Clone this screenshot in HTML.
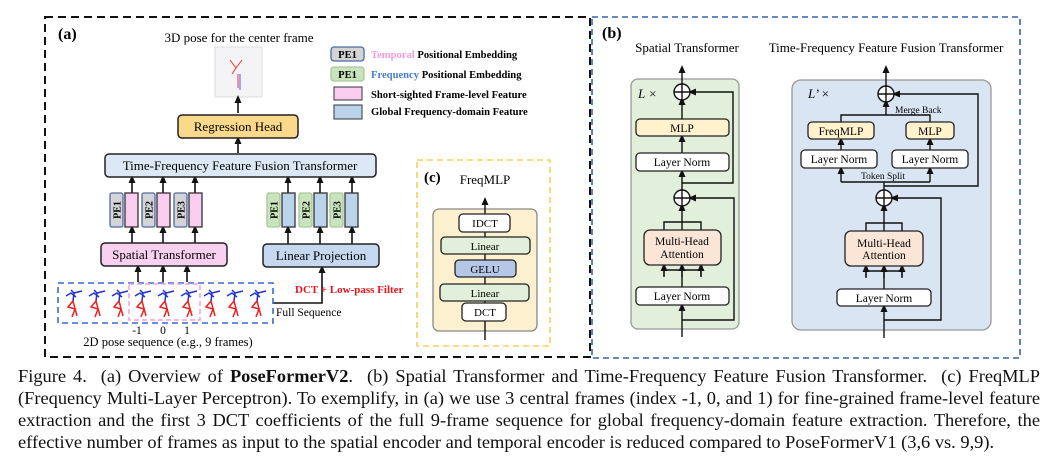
<!DOCTYPE html>
<html><head><meta charset="utf-8"><style>
body{margin:0;background:#fff;width:1060px;height:460px;overflow:hidden;position:relative;font-family:"Liberation Serif",serif}
svg{position:absolute;left:0;top:0}
.cap{position:absolute;left:18px;width:1022px;font-size:18.4px;line-height:22px;color:#111;white-space:nowrap}
.j{text-align:justify;text-align-last:justify}
</style></head><body>
<svg width="1060" height="360" viewBox="0 0 1060 360" font-family="Liberation Serif, serif">
<defs><marker id="a" markerWidth="8" markerHeight="8" refX="4" refY="4" orient="auto" markerUnits="userSpaceOnUse"><path d="M0,0.5 L8,4 L0,7.5 Z" fill="#111"/></marker></defs>
<rect x="45" y="17" width="545" height="340" fill="none" stroke="#111" stroke-width="2" stroke-dasharray="8,5"/>
<text x="58" y="39" font-size="16" font-weight="bold">(a)</text>
<text x="239" y="42" font-size="13" text-anchor="middle">3D pose for the center frame</text>
<rect x="215" y="47" width="47" height="50" fill="#f4f4f6" stroke="#ddd"/>
<path d="M230 60 l6 8 l-4 6 M236 68 l6 -8 M238 74 l0 14" stroke="#e33" fill="none"/><path d="M240 74 l0 16" stroke="#55e"/>
<g stroke="#111" stroke-width="1.6" fill="none" marker-end="url(#a)">
<line x1="238" y1="113" x2="238" y2="99"/>
<line x1="238" y1="153" x2="238" y2="140"/>
<line x1="132" y1="193" x2="132" y2="179"/><line x1="163" y1="193" x2="163" y2="179"/><line x1="195" y1="193" x2="195" y2="179"/>
<line x1="288" y1="193" x2="288" y2="179"/><line x1="320" y1="193" x2="320" y2="179"/><line x1="352" y1="193" x2="352" y2="179"/>
<line x1="132" y1="243" x2="132" y2="229"/><line x1="163" y1="243" x2="163" y2="229"/><line x1="195" y1="243" x2="195" y2="229"/>
<line x1="288" y1="244" x2="288" y2="229"/><line x1="320" y1="244" x2="320" y2="229"/><line x1="352" y1="244" x2="352" y2="229"/>
<line x1="138" y1="282" x2="138" y2="268"/><line x1="163" y1="282" x2="163" y2="268"/><line x1="187" y1="282" x2="187" y2="268"/>
<polyline points="273,303 322,303 322,269"/>
</g>
<rect x="178" y="115" width="120" height="23" rx="4" fill="#fbd98a" stroke="#222" stroke-width="1.5"/>
<text x="238" y="131" font-size="13" text-anchor="middle">Regression Head</text>
<rect x="105" y="154" width="271" height="23" rx="4" fill="#dce8f5" stroke="#222" stroke-width="1.5"/>
<text x="240" y="170" font-size="13" text-anchor="middle">Time-Frequency Feature Fusion Transformer</text>
<g stroke="#4a6aa8" stroke-width="1.3">
<rect x="110" y="193" width="13" height="34" rx="2" fill="#d4d4d4"/><rect x="142" y="193" width="13" height="34" rx="2" fill="#d4d4d4"/><rect x="174" y="193" width="13" height="34" rx="2" fill="#d4d4d4"/>
<rect x="267" y="193" width="13" height="34" rx="2" fill="#c9e3bd" stroke="#aac79c"/><rect x="299" y="193" width="13" height="34" rx="2" fill="#c9e3bd" stroke="#aac79c"/><rect x="330" y="193" width="13" height="34" rx="2" fill="#c9e3bd" stroke="#aac79c"/>
</g>
<g stroke="#333" stroke-width="1.3">
<rect x="125" y="193" width="13" height="34" fill="#f9ccf0"/><rect x="157" y="193" width="13" height="34" fill="#f9ccf0"/><rect x="189" y="193" width="13" height="34" fill="#f9ccf0"/>
<rect x="282" y="193" width="13" height="34" fill="#bcd3ec"/><rect x="314" y="193" width="13" height="34" fill="#bcd3ec"/><rect x="345" y="193" width="13" height="34" fill="#bcd3ec"/>
</g>
<g font-size="10" font-weight="bold" text-anchor="middle">
<text transform="translate(120.5,210) rotate(-90)">PE1</text><text transform="translate(152.5,210) rotate(-90)">PE2</text><text transform="translate(184.5,210) rotate(-90)">PE3</text>
<text transform="translate(277.5,210) rotate(-90)">PE1</text><text transform="translate(309.5,210) rotate(-90)">PE2</text><text transform="translate(340.5,210) rotate(-90)">PE3</text>
</g>
<rect x="101" y="243" width="126" height="23" rx="4" fill="#f9d0f0" stroke="#222" stroke-width="1.5"/>
<text x="164" y="259" font-size="13" text-anchor="middle">Spatial Transformer</text>
<rect x="263" y="244" width="116" height="23" rx="4" fill="#c5d8ef" stroke="#222" stroke-width="1.5"/>
<text x="321" y="260" font-size="13" text-anchor="middle">Linear Projection</text>
<rect x="58" y="283" width="215" height="40" fill="none" stroke="#3a6cc8" stroke-width="1.6" stroke-dasharray="6,4"/>
<rect x="129" y="284" width="71" height="36" fill="none" stroke="#f29ee0" stroke-width="1.5" stroke-dasharray="5,3"/>
<g fill="none" stroke-width="1.5">
<g id="p"><path d="M66 296 l5 -3 l5 4 M71 290 l3 3 l8 -2 M74 293 l-1 8" stroke="#23c"/><path d="M73 301 l-5 6 l7 2 l-3 8 M73 301 l4 15" stroke="#e22"/></g>
<use href="#p" x="23"/><use href="#p" x="46"/><use href="#p" x="69"/><use href="#p" x="92"/><use href="#p" x="115"/><use href="#p" x="138"/><use href="#p" x="161"/><use href="#p" x="184"/>
</g>
<text x="295" y="293" font-size="11" font-weight="bold" fill="#e8141c">DCT + Low-pass Filter</text>
<text x="276" y="316" font-size="11.5">Full Sequence</text>
<g font-size="11.5" text-anchor="middle"><text x="137" y="334">-1</text><text x="163" y="334">0</text><text x="187" y="334">1</text></g>
<text x="168" y="346" font-size="12.5" text-anchor="middle">2D pose sequence (e.g., 9 frames)</text>
<rect x="331" y="47" width="33" height="14" rx="3" fill="#d4d4d4" stroke="#4a6aa8" stroke-width="1.3"/>
<text x="347.5" y="58" font-size="10.5" font-weight="bold" text-anchor="middle">PE1</text>
<rect x="331" y="67" width="33" height="14" rx="3" fill="#c9e3bd" stroke="#aac79c" stroke-width="1.3"/>
<text x="347.5" y="78" font-size="10.5" font-weight="bold" text-anchor="middle">PE1</text>
<g font-size="10.6" font-weight="bold">
<text x="371" y="58"><tspan fill="#f49be0">Temporal</tspan> Positional Embedding</text>
<text x="371" y="78"><tspan fill="#4a7ad0">Frequency</tspan> Positional Embedding</text>
<text x="371" y="98">Short-sighted Frame-level Feature</text>
<text x="371" y="115">Global Frequency-domain Feature</text>
</g>
<rect x="334" y="87" width="28" height="13" fill="#f9ccf0" stroke="#333"/>
<rect x="334" y="105" width="28" height="14" fill="#bcd3ec" stroke="#333"/>
<rect x="417" y="160" width="133" height="186" fill="none" stroke="#f5cf5a" stroke-width="1.6" stroke-dasharray="6,4"/>
<text x="424" y="182" font-size="15" font-weight="bold">(c)</text>
<text x="485" y="184" font-size="13" text-anchor="middle">FreqMLP</text>
<rect x="433" y="209" width="104" height="122" rx="6" fill="#fdf0cf" stroke="#888" stroke-width="1.3"/>
<line x1="485" y1="340" x2="485" y2="201" stroke="#111" stroke-width="1.4" marker-end="url(#a)"/>
<g stroke="#222" stroke-width="1.3">
<rect x="459" y="214" width="51" height="18" rx="4" fill="#fff"/>
<rect x="441" y="237" width="89" height="17" rx="4" fill="#e2efda"/>
<rect x="455" y="260" width="61" height="17" rx="4" fill="#b4c7e7"/>
<rect x="440" y="284" width="89" height="17" rx="4" fill="#e2efda"/>
<rect x="462" y="303" width="44" height="18" rx="4" fill="#fff"/>
</g>
<g font-size="11" text-anchor="middle"><text x="485" y="227">IDCT</text><text x="485" y="250">Linear</text><text x="485" y="273">GELU</text><text x="485" y="297">Linear</text><text x="485" y="316">DCT</text></g>
<rect x="592" y="17" width="428" height="341" fill="none" stroke="#3a62a8" stroke-width="1.6" stroke-dasharray="6,4"/>
<text x="602" y="38" font-size="16" font-weight="bold">(b)</text>
<text x="687" y="52" font-size="13" text-anchor="middle">Spatial Transformer</text>
<text x="886" y="52" font-size="13" text-anchor="middle">Time-Frequency Feature Fusion Transformer</text>
<rect x="631" y="79" width="108" height="250" rx="7" fill="#e2efda" stroke="#999" stroke-width="1.3"/>
<rect x="792" y="80" width="199" height="250" rx="9" fill="#dae5f3" stroke="#999" stroke-width="1.3"/>
<text x="638" y="98" font-size="13" font-style="italic">L ×</text>
<text x="808" y="98" font-size="13" font-style="italic">L’ ×</text>
<g stroke="#111" stroke-width="1.4" fill="none">
<line x1="682" y1="337" x2="682" y2="307" marker-end="url(#a)"/>
<line x1="682" y1="287" x2="682" y2="268"/>
<polyline points="664,276 664,270 701,270 701,276" /><line x1="664" y1="277" x2="664" y2="267" marker-end="url(#a)"/><line x1="701" y1="277" x2="701" y2="267" marker-end="url(#a)"/><line x1="682" y1="277" x2="682" y2="267" marker-end="url(#a)"/>
<polyline points="664,230 664,222 701,222 701,230"/>
<line x1="682" y1="230" x2="682" y2="207" marker-end="url(#a)"/>
<line x1="682" y1="190" x2="682" y2="173" marker-end="url(#a)"/>
<line x1="682" y1="153" x2="682" y2="138" marker-end="url(#a)"/>
<line x1="682" y1="119" x2="682" y2="101" marker-end="url(#a)"/>
<line x1="682" y1="84" x2="682" y2="69" marker-end="url(#a)"/>
<polyline points="682,320 734,320 734,198 692,198" marker-end="url(#a)"/>
<polyline points="682,183 733,183 733,92 692,92" marker-end="url(#a)"/>
<circle cx="682" cy="92" r="8" fill="#fff"/><path d="M674 92h16M682 84v16"/>
<circle cx="682" cy="198" r="8" fill="#fff"/><path d="M674 198h16M682 190v16"/>
<line x1="884" y1="338" x2="884" y2="308" marker-end="url(#a)"/>
<line x1="884" y1="289" x2="884" y2="268"/>
<polyline points="866,277 866,271 902,271 902,277"/><line x1="866" y1="278" x2="866" y2="268" marker-end="url(#a)"/><line x1="884" y1="278" x2="884" y2="268" marker-end="url(#a)"/><line x1="902" y1="278" x2="902" y2="268" marker-end="url(#a)"/>
<polyline points="866,231 866,223 902,223 902,231"/>
<line x1="884" y1="231" x2="884" y2="207" marker-end="url(#a)"/>
<line x1="884" y1="190" x2="884" y2="182"/>
<polyline points="841,182 930,182"/>
<line x1="841" y1="182" x2="841" y2="170" marker-end="url(#a)"/><line x1="930" y1="182" x2="930" y2="170" marker-end="url(#a)"/>
<line x1="841" y1="150" x2="841" y2="141" marker-end="url(#a)"/><line x1="930" y1="150" x2="930" y2="141" marker-end="url(#a)"/>
<polyline points="841,122 841,115 930,115 930,122"/>
<line x1="886" y1="115" x2="886" y2="103" marker-end="url(#a)"/>
<line x1="886" y1="86" x2="886" y2="69" marker-end="url(#a)"/>
<polyline points="884,320 941,320 941,198 894,198" marker-end="url(#a)"/>
<polyline points="884,186 978,186 978,94 896,94" marker-end="url(#a)"/>
<circle cx="886" cy="94" r="8" fill="#fff"/><path d="M878 94h16M886 86v16"/>
<circle cx="884" cy="198" r="8" fill="#fff"/><path d="M876 198h16M884 190v16"/>
</g>
<g stroke="#222" stroke-width="1.3">
<rect x="636" y="119" width="93" height="17" rx="4" fill="#fff2cc"/>
<rect x="636" y="153" width="93" height="18" rx="4" fill="#fff"/>
<rect x="644" y="230" width="77" height="35" rx="6" fill="#fbe5d6"/>
<rect x="636" y="287" width="93" height="18" rx="4" fill="#fff"/>
<rect x="808" y="122" width="66" height="17" rx="4" fill="#fff2cc"/>
<rect x="906" y="122" width="48" height="17" rx="4" fill="#fff2cc"/>
<rect x="801" y="150" width="76" height="18" rx="4" fill="#fff"/>
<rect x="892" y="150" width="76" height="18" rx="4" fill="#fff"/>
<rect x="845" y="231" width="78" height="35" rx="6" fill="#fbe5d6"/>
<rect x="837" y="289" width="94" height="17" rx="4" fill="#fff"/>
</g>
<g font-size="11.5" text-anchor="middle">
<text x="682" y="132">MLP</text><text x="682" y="166">Layer Norm</text>
<text x="682" y="245">Multi-Head</text><text x="682" y="258">Attention</text>
<text x="682" y="300">Layer Norm</text>
<text x="841" y="135">FreqMLP</text><text x="930" y="135">MLP</text>
<text x="839" y="163">Layer Norm</text><text x="930" y="163">Layer Norm</text>
<text x="884" y="247">Multi-Head</text><text x="884" y="259">Attention</text>
<text x="884" y="302">Layer Norm</text>
</g>
<text x="895" y="113" font-size="9.5">Merge Back</text>
<text x="883" y="179" font-size="9.5" text-anchor="middle">Token Split</text>
</svg>
<div class="cap j" style="top:365px">Figure 4.&nbsp; (a) Overview of <b>PoseFormerV2</b>.&nbsp; (b) Spatial Transformer and Time-Frequency Feature Fusion Transformer.&nbsp; (c) FreqMLP</div>
<div class="cap j" style="top:387px">(Frequency Multi-Layer Perceptron). To exemplify, in (a) we use 3 central frames (index -1, 0, and 1) for fine-grained frame-level feature</div>
<div class="cap j" style="top:409px">extraction and the first 3 DCT coefficients of the full 9-frame sequence for global frequency-domain feature extraction. Therefore, the</div>
<div class="cap" style="top:431px">effective number of frames as input to the spatial encoder and temporal encoder is reduced compared to PoseFormerV1 (3,6 vs. 9,9).</div>
</body></html>
